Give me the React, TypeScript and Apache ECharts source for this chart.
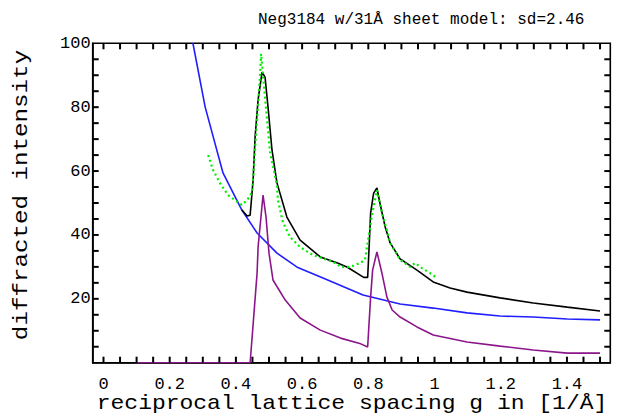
import React, { useEffect, useRef } from 'react';
import * as echarts from 'echarts';

const titleText = 'Neg3184 w/31Å sheet model: sd=2.46';
const xAxisName = 'reciprocal lattice spacing g in [1/Å]';
const yAxisName = 'diffracted intensity';

const xLabelValues = [0, 0.2, 0.4, 0.6, 0.8, 1, 1.2, 1.4];
const yLabelValues = [20, 40, 60, 80, 100];

// background (blue)
const background: [number, number][] = [
  [0.27, 100.1], [0.307, 80.1], [0.361, 59.4], [0.418, 47.8], [0.464, 40.6],
  [0.524, 34.3], [0.585, 29.9], [0.663, 26.5], [0.784, 21.2], [0.896, 18.4],
  [0.996, 17.1], [1.098, 15.6], [1.198, 14.6], [1.298, 14.3], [1.401, 13.7], [1.5, 13.4],
];

// model total (black)
const model: [number, number][] = [
  [0.418, 47.8], [0.434, 45.9], [0.443, 46.2], [0.452, 57.2], [0.458, 70.7],
  [0.467, 82.3], [0.479, 91.0], [0.488, 89.4], [0.497, 80.1], [0.509, 66.6],
  [0.524, 56.3], [0.554, 45.6], [0.594, 38.4], [0.655, 33.1], [0.707, 31.2],
  [0.737, 29.9], [0.786, 26.7], [0.798, 26.7], [0.801, 33.1], [0.807, 46.9],
  [0.816, 53.1], [0.826, 54.7], [0.835, 50.0], [0.851, 42.5], [0.866, 37.5],
  [0.896, 32.5], [0.947, 29.0], [0.996, 25.3], [1.047, 23.4], [1.098, 22.1],
  [1.198, 20.3], [1.298, 18.7], [1.401, 17.4], [1.5, 16.2],
];

// sheet peaks (purple)
const peaks: [number, number][] = [
  [0.101, 0], [0.443, 0], [0.464, 28.1], [0.467, 36.2], [0.482, 52.5],
  [0.491, 45.6], [0.5, 34.3], [0.512, 25.9], [0.549, 19.6], [0.594, 14.0],
  [0.655, 10.2], [0.716, 7.7], [0.777, 5.9], [0.798, 4.9], [0.807, 20.6],
  [0.813, 29.0], [0.826, 34.7], [0.841, 28.1], [0.856, 20.6], [0.872, 16.5],
  [0.896, 14.3], [0.947, 11.2], [0.996, 8.7], [1.098, 6.5], [1.198, 5.2],
  [1.298, 4.0], [1.401, 3.0], [1.5, 3.0],
];

// measured data (green dots)
const measured: [number, number][] = [
  [0.316, 65.0], [0.331, 60.3], [0.352, 56.2], [0.376, 52.5], [0.397, 50.9],
  [0.418, 49.4], [0.434, 50.9], [0.449, 53.4], [0.473, 90.1], [0.476, 96.7],
  [0.503, 66.0], [0.524, 55.6], [0.527, 50.9], [0.542, 44.0], [0.563, 39.4],
  [0.594, 36.2], [0.633, 33.7], [0.676, 32.2], [0.707, 30.9], [0.715, 30.0],
  [0.745, 30.0], [0.775, 31.2], [0.79, 32.2], [0.811, 46.2], [0.826, 54.0],
  [0.841, 46.9], [0.856, 41.6], [0.866, 37.5], [0.896, 32.2], [0.926, 30.0],
  [0.941, 31.2], [0.962, 29.6], [0.986, 28.1], [1.007, 26.5],
];

const X_MIN = -0.0326;
const X_MAX = 1.531;
const Y_MIN = 0;
const Y_MAX = 100;
const MONO = '"Liberation Mono", "DejaVu Sans Mono", monospace';

// tick marks: [value, side]  side 0 bottom, 1 top (x every 0.05), 2 left, 3 right (y every 5)
const tickItems: [number, number][] = [];
for (let i = 0; i <= 30; i++) {
  tickItems.push([Math.round(i * 5) / 100, 0]);
  tickItems.push([Math.round(i * 5) / 100, 1]);
}
for (let i = 1; i <= 19; i++) {
  tickItems.push([i * 5, 2]);
  tickItems.push([i * 5, 3]);
}

export default function App() {
  const ref = useRef<HTMLDivElement>(null);
  useEffect(() => {
    if (!ref.current) return;
    const chart = echarts.init(ref.current, null, { renderer: 'svg' });
    const TL = 6;
    const TW = 2;
    chart.setOption({
      animation: false,
      title: {
        text: titleText,
        left: 253,
        top: 7,
        textStyle: { fontFamily: MONO, fontSize: 16, fontWeight: 'normal', color: '#000' },
      },
      grid: {
        left: 92.7, right: 6.7, top: 43.3, bottom: 55.3,
        show: true, borderColor: '#000', borderWidth: 1.6, backgroundColor: 'transparent',
      },
      xAxis: {
        type: 'value', min: X_MIN, max: X_MAX,
        axisLine: { show: true, onZero: false, lineStyle: { color: '#000', width: 1.6 } },
        splitLine: { show: false }, axisTick: { show: false },
        axisLabel: {
          customValues: xLabelValues, margin: 13,
          fontFamily: MONO, fontSize: 17, color: '#000',
          formatter: (v: number) => String(v),
        },
      },
      yAxis: {
        type: 'value', min: Y_MIN, max: Y_MAX, interval: 20,
        axisLine: { show: true, onZero: false, lineStyle: { color: '#000', width: 1.6 } },
        splitLine: { show: false }, axisTick: { show: false },
        axisLabel: {
          margin: 2, fontFamily: MONO, fontSize: 17, color: '#000',
          formatter: (v: number) => (yLabelValues.indexOf(v) >= 0 ? String(v) : ''),
        },
      },
      graphic: [
        {
          type: 'text', x: 352, y: 403, scaleX: 1.15,
          style: { text: xAxisName, font: `20px ${MONO}`, fill: '#000', align: 'center', verticalAlign: 'middle' },
        },
        {
          type: 'text', x: 22, y: 195, rotation: Math.PI / 2, scaleX: 1.21,
          style: { text: yAxisName, font: `20px ${MONO}`, fill: '#000', align: 'center', verticalAlign: 'middle' },
        },
      ],
      series: [
        {
          type: 'custom', data: tickItems, clip: false, z: 10,
          renderItem: (params: any, api: any) => {
            const v = api.value(0);
            const side = api.value(1);
            if (side === 0) {
              const p = api.coord([v, Y_MIN]);
              return { type: 'line', shape: { x1: p[0], y1: p[1], x2: p[0], y2: p[1] - TL }, style: { stroke: '#000', lineWidth: TW } };
            }
            if (side === 1) {
              const p = api.coord([v, Y_MAX]);
              return { type: 'line', shape: { x1: p[0], y1: p[1], x2: p[0], y2: p[1] + TL }, style: { stroke: '#000', lineWidth: TW } };
            }
            if (side === 2) {
              const p = api.coord([X_MIN, v]);
              return { type: 'line', shape: { x1: p[0], y1: p[1], x2: p[0] + TL, y2: p[1] }, style: { stroke: '#000', lineWidth: TW } };
            }
            const p = api.coord([X_MAX, v]);
            return { type: 'line', shape: { x1: p[0], y1: p[1], x2: p[0] - TL, y2: p[1] }, style: { stroke: '#000', lineWidth: TW } };
          },
        },
        {
          name: 'background', type: 'line', data: background, showSymbol: false,
          lineStyle: { color: '#1f1fff', width: 1.6 },
        },
        {
          name: 'peaks', type: 'line', data: peaks, showSymbol: false,
          lineStyle: { color: '#8b168b', width: 1.6 },
        },
        {
          name: 'model', type: 'line', data: model, showSymbol: false,
          lineStyle: { color: '#000', width: 1.6 },
        },
        {
          name: 'measured', type: 'line', data: measured, showSymbol: false,
          lineStyle: { color: '#00ee00', width: 2.2, type: [2, 3] },
        },
      ],
    });
    return () => chart.dispose();
  }, []);
  return <div ref={ref} style={{ width: 617, height: 418, position: 'absolute', left: 0, top: 0 }} />;
}
